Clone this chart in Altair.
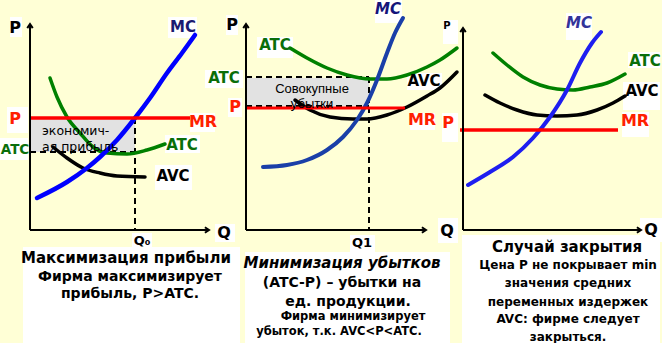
import altair as alt
import pandas as pd

BG = "#FFFFD6"
FONT = "DejaVu Sans"

# ---------------- curves (canvas units: x right, y down) ----------------
P1_MC_X = [37, 67, 87, 100, 117, 135, 150, 167, 182, 195]
P1_MC_Y = [198, 182, 168, 157, 140, 118, 98, 73, 53, 35]
P1_ATC_X = [50, 57, 67, 80, 93, 107, 127, 147, 165]
P1_ATC_Y = [78, 97, 117, 133, 147, 153, 154, 150, 144]
P1_AVC_X = [53, 67, 83, 100, 117, 145]
P1_AVC_Y = [147, 158, 168, 173, 176, 177]

P2_MC_X = [263, 287, 307, 327, 343, 357, 367, 377, 387, 395, 403]
P2_MC_Y = [167, 165, 160, 150, 137, 120, 103, 80, 53, 33, 18]
P2_ATC_X = [290, 307, 327, 347, 370, 387, 407, 427, 440, 457]
P2_ATC_Y = [48, 58, 68, 75, 79, 79, 75, 67, 60, 48]
P2_AVC_X = [295, 310, 330, 353, 367, 387, 407, 427, 440, 457]
P2_AVC_Y = [100, 110, 117, 119, 119, 115, 107, 96, 88, 72]

P3_MC_X = [468, 490, 513, 533, 550, 567, 580, 592, 601]
P3_MC_Y = [185, 172, 157, 138, 117, 90, 63, 43, 32]
P3_ATC_X = [493, 507, 523, 540, 557, 573, 590, 607, 625]
P3_ATC_Y = [53, 65, 77, 85, 89, 90, 87, 83, 74]
P3_AVC_X = [485, 500, 517, 537, 557, 577, 597, 613, 625]
P3_AVC_Y = [95, 103, 110, 115, 116, 115, 110, 103, 96]

CURVES = [
    ("p1_atc", P1_ATC_X, P1_ATC_Y, "#008000", 3.5),
    ("p1_avc", P1_AVC_X, P1_AVC_Y, "#000000", 3.5),
    ("p1_mc", P1_MC_X, P1_MC_Y, "#0000FF", 4.5),
    ("p2_atc", P2_ATC_X, P2_ATC_Y, "#008000", 3.5),
    ("p2_avc", P2_AVC_X, P2_AVC_Y, "#000000", 3.5),
    ("p2_mc", P2_MC_X, P2_MC_Y, "#1A3FA8", 4),
    ("p3_atc", P3_ATC_X, P3_ATC_Y, "#008000", 3.5),
    ("p3_avc", P3_AVC_X, P3_AVC_Y, "#000000", 3.5),
    ("p3_mc", P3_MC_X, P3_MC_Y, "#1E1EF0", 4),
]

# straight lines: x, x2, y, y2, colour, width
MR_LINES = [
    (30, 190, 118, 118, "#FF0000", 3.5),
    (246, 405, 108, 108, "#FF0000", 3),
    (460, 618, 130, 130, "#FF0000", 3.5),
]
AXES = [
    (30, 30, 230, 25, "#000000", 2),
    (30, 208, 230, 230, "#000000", 2),
    (246, 246, 230, 25, "#000000", 2),
    (246, 425, 230, 230, "#000000", 2),
    (463, 463, 230, 29, "#000000", 2),
    (463, 640, 230, 230, "#000000", 2),
]
ARROWS = [(30, 24, 0), (209, 230, 90), (246, 24, 0), (426, 230, 90), (463, 28, 0), (641, 230, 90)]
DASHED = [
    (30, 135, 152, 152),
    (135, 135, 118, 230),
    (246, 369, 77, 77),
    (246, 369, 106, 106),
    (369, 369, 77, 230),
]
# shaded profit / loss rectangles
SHADE = [(31, 135, 119, 152), (247, 369, 78, 106)]

# white boxes behind labels and captions
WHITE = [
    (10, 22, 17, 37), (168, 197, 17, 38), (7, 28, 107, 133), (0, 28, 138, 160),
    (190, 215, 113, 132), (165, 200, 135, 153), (155, 192, 165, 190),
    (215, 235, 224, 242), (132, 152, 233, 250),
    (226, 238, 15, 35), (257, 293, 37, 58), (205, 243, 70, 88), (228, 242, 98, 117),
    (375, 402, 0, 23), (407, 442, 73, 90), (410, 435, 113, 130), (350, 375, 235, 252),
    (438, 458, 218, 243),
    (443, 458, 20, 44), (566, 592, 13, 40), (628, 660, 52, 68), (623, 660, 82, 110),
    (622, 649, 112, 137), (442, 458, 113, 142), (640, 662, 218, 242),
    (23, 240, 247, 343), (245, 450, 252, 343), (462, 660, 235, 343),
]

# ---------------- labels ----------------
# (text, x, y, colour)
AXIS_LABELS = [
    ("P", 15, 28, "#000000"), ("Q", 224, 233, "#000000"),
    ("P", 232, 25, "#000000"), ("Q", 447, 231, "#000000"),
    ("Q", 651, 230, "#000000"),
]
RED_LABELS = [
    ("P", 15, 119, "#FF2000"), ("MR", 203, 122, "#FF2000"),
    ("P", 235, 107, "#FF2000"), ("MR", 422, 120, "#FF2000"),
    ("P", 448, 123, "#FF2000"), ("MR", 635, 121, "#FF2000"),
]
CURVE_LABELS = [
    ("MC", 183, 27, "#1A1A70"), ("ATC", 182, 145, "#0A6E0A"),
    ("AVC", 173, 176, "#000000"),
    ("ATC", 275, 45, "#0A6E0A"), ("ATC", 224, 78, "#0A6E0A"), ("AVC", 424, 81, "#000000"),
    ("ATC", 645, 61, "#0A6E0A"), ("AVC", 642, 91, "#000000"),
]
EDGE_LABELS = [("ATC", 15, 150, "#0A6E0A")]
ITALIC_MC = [("MC", 388, 9, "#14147A"), ("MC", 579, 23, "#333399")]
SMALL_P = [("P", 447, 26, "#000000")]
Q_SUB = [("Q₀", 142, 241, "#000000"), ("Q1", 362, 243, "#000000")]
BOX_TEXT_LEFT = [("экономич-", 42, 131, "#000000"), ("ая прибыль", 42, 147, "#000000")]
BOX_TEXT_CENTER = [("Совокупные", 312, 89, "#000000"), ("убытки", 312, 104, "#000000")]
TITLES = [
    ("Максимизация прибыли", 126, 258, "#000000"),
    ("Случай закрытия", 567, 247, "#000000"),
]
TITLE_ITALIC = [("Минимизация убытков", 342, 263, "#000000")]
BODY = [
    ("Фирма максимизирует", 130, 277, "#000000"),
    ("прибыль,  P>ATC.", 130, 294, "#000000"),
    ("(ATC-P) – убытки на", 342, 283, "#000000"),
    ("ед. продукции.", 348, 302, "#000000"),
]
BODY_SMALL = [
    ("Фирма минимизирует", 353, 317, "#000000"),
    ("убыток, т.к.  AVC<P<ATC.", 339, 332, "#000000"),
]
BODY3 = [
    ("Цена P не  покрывает min", 568, 265, "#000000"),
    ("значения средних", 568, 283, "#000000"),
    ("переменных издержек", 568, 302, "#000000"),
    ("AVC: фирме следует", 568, 319, "#000000"),
    ("закрыться.", 568, 337, "#000000"),
]

# ---------------- build ----------------
XS = alt.Scale(domain=[0, 662], nice=False, zero=False)
YS = alt.Scale(domain=[0, 343], nice=False, zero=False, reverse=True)


def X(f="x"):
    return alt.X(f"{f}:Q", scale=XS, axis=None)


def Y(f="y"):
    return alt.Y(f"{f}:Q", scale=YS, axis=None)


def seg_df(items):
    return pd.DataFrame(items, columns=["x", "x2", "y", "y2", "c", "w"][: len(items[0])])


white_df = pd.DataFrame(WHITE, columns=["x", "x2", "y", "y2"])
white = alt.Chart(white_df).mark_rect(color="white").encode(
    x=X(), x2="x2:Q", y=Y(), y2="y2:Q")

shade_df = pd.DataFrame(SHADE, columns=["x", "x2", "y", "y2"])
shade = alt.Chart(shade_df).mark_rect(color="#E2E2E2").encode(
    x=X(), x2="x2:Q", y=Y(), y2="y2:Q")

rows = []
for name, xs, ys, col, w in CURVES:
    for i, (x, y) in enumerate(zip(xs, ys)):
        rows.append(dict(k=name, i=i, x=x, y=y, c=col, w=w))
curve_df = pd.DataFrame(rows)
curves = alt.Chart(curve_df).mark_line(interpolate="monotone", strokeCap="round").encode(
    x=X(), y=Y(), detail="k:N", order="i:Q",
    color=alt.Color("c:N", scale=None),
    strokeWidth=alt.StrokeWidth("w:Q", scale=None))

mr_df = seg_df(MR_LINES)
mr = alt.Chart(mr_df).mark_rule().encode(
    x=X(), x2="x2:Q", y=Y(), y2="y2:Q",
    color=alt.Color("c:N", scale=None), strokeWidth=alt.StrokeWidth("w:Q", scale=None))

ax_df = seg_df(AXES)
axes = alt.Chart(ax_df).mark_rule().encode(
    x=X(), x2="x2:Q", y=Y(), y2="y2:Q",
    color=alt.Color("c:N", scale=None), strokeWidth=alt.StrokeWidth("w:Q", scale=None))

arr_df = pd.DataFrame(ARROWS, columns=["x", "y", "a"])
arrows = alt.Chart(arr_df).mark_point(
    shape="M-1,1.5L0,0L1,1.5", filled=False, color="black", strokeWidth=2, size=30, opacity=1
).encode(x=X(), y=Y(), angle=alt.Angle("a:Q", scale=None))

dash_df = pd.DataFrame(DASHED, columns=["x", "x2", "y", "y2"])
dashed = alt.Chart(dash_df).mark_rule(color="black", strokeWidth=2, strokeDash=[6, 4]).encode(
    x=X(), x2="x2:Q", y=Y(), y2="y2:Q")


def text_layer(items, size, weight="normal", style="normal", align="center", font=FONT):
    df = pd.DataFrame(items, columns=["t", "x", "y", "c"])
    return alt.Chart(df).mark_text(
        fontSize=size, fontWeight=weight, fontStyle=style, align=align,
        baseline="middle", font=font
    ).encode(x=X(), y=Y(), text="t:N", color=alt.Color("c:N", scale=None))


texts = [
    text_layer(AXIS_LABELS, 16, "bold"),
    text_layer(RED_LABELS, 16, "bold"),
    text_layer(CURVE_LABELS, 15, "bold"),
    text_layer(EDGE_LABELS, 13.5, "bold"),
    text_layer(ITALIC_MC, 15, "bold", "italic"),
    text_layer(SMALL_P, 10, "bold"),
    text_layer(Q_SUB, 13, "bold"),
    text_layer(BOX_TEXT_LEFT, 12.5, "normal", align="left"),
    text_layer(BOX_TEXT_CENTER, 13, "normal", font="Liberation Sans"),
    text_layer(TITLES, 15, "bold"),
    text_layer(TITLE_ITALIC, 15, "bold", "italic"),
    text_layer(BODY, 14, "bold"),
    text_layer(BODY_SMALL, 11.5, "bold"),
    text_layer(BODY3, 12, "bold"),
]

chart = alt.layer(
    white, shade, dashed, curves, mr, axes, arrows, *texts
).properties(
    width=662, height=343, autosize=alt.AutoSizeParams(type="none"), padding=0,
    background=BG,
).configure_view(stroke=None)

chart.save("out.html", embed_options={"renderer": "svg", "actions": False})
